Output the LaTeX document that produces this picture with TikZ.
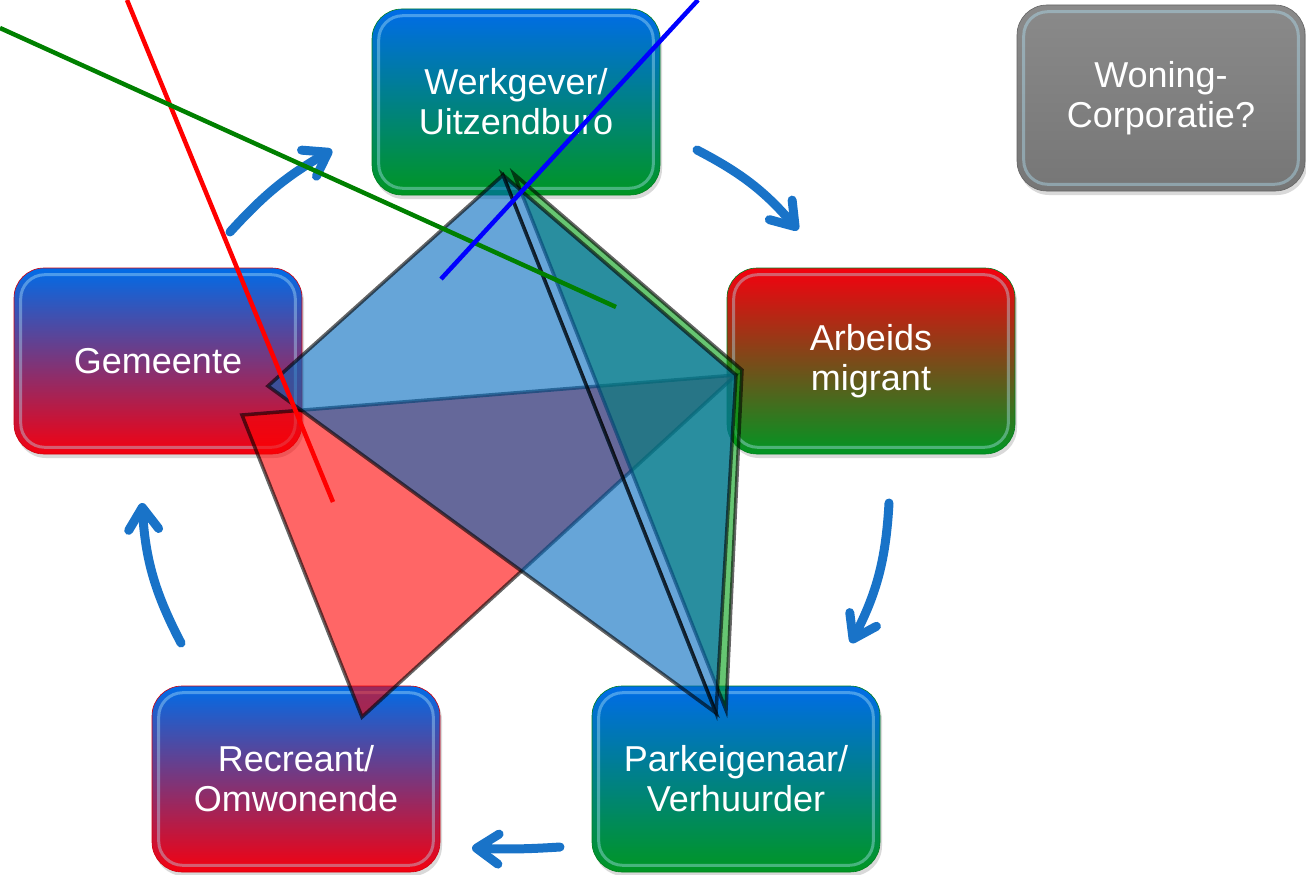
\documentclass[tikz,border=0pt]{standalone}
\usepackage{fontspec}
\setmainfont{Liberation Sans}
\usetikzlibrary{positioning, arrows.meta, shadows}

\definecolor{tileblue}{RGB}{0,108,232}
\definecolor{tilegreen}{RGB}{0,150,35}
\definecolor{tilered}{RGB}{245,0,15}
\definecolor{tilegreytop}{RGB}{138,138,138}
\definecolor{tilegrey}{RGB}{118,118,118}
\definecolor{cyclearrow}{RGB}{25,115,200}
\definecolor{faceblue}{RGB}{0,105,190}
\definecolor{facegreen}{RGB}{0,160,20}
\definecolor{facered}{RGB}{255,0,0}
\definecolor{rayred}{RGB}{255,0,0}
\definecolor{raygreen}{RGB}{0,128,0}
\definecolor{rayblue}{RGB}{0,0,255}

\tikzset{
  tile/.style 2 args={rounded corners=30pt, minimum width=288pt, minimum height=186pt,
    top color=#1, bottom color=#2, draw=#2!85!black, line width=0.6pt,
    text=white, align=center, font=\fontsize{36}{40}\selectfont,
    drop shadow={opacity=0.3, shadow xshift=2pt, shadow yshift=-4pt}},
  gloss/.style={draw=cyan!30!white, draw opacity=0.4, line width=3pt, rounded corners=24pt},
  cyclearr/.style={draw=cyclearrow, line width=9pt, line cap=round,
    -{Straight Barb[length=22pt, width=30pt, round]}},
  facet/.style={fill=#1, fill opacity=0.6, draw=black, draw opacity=0.6,
    line width=3.5pt, line join=miter},
  ray/.style={draw=#1, line width=4.5pt}
}

\begin{document}
\begin{tikzpicture}[x=1pt, y=-1pt]
  \useasboundingbox (0,0) rectangle (1306,875);

  % tiles
  \node[tile={tileblue}{tilegreen}] (werkgever) at (516,102) {Werkgever/\\Uitzendburo};
  \node[tile={tilegreytop}{tilegrey}] (woning) at (1161,98) {Woning-\\Corporatie?};
  \node[tile={tileblue}{tilered}] (gemeente) at (158,361) {Gemeente};
  \node[tile={tilered}{tilegreen}] (arbeids) at (871,361) {Arbeids\\migrant};
  \node[tile={tileblue}{tilered}] (recreant) at (296,779) {Recreant/\\Omwonende};
  \node[tile={tileblue}{tilegreen}] (parkeigenaar) at (736,779) {Parkeigenaar/\\Verhuurder};
  \foreach \t in {werkgever, woning, gemeente, arbeids, recreant, parkeigenaar}
    \draw[gloss] ([shift={(7pt,-7pt)}]\t.north west) rectangle ([shift={(-7pt,7pt)}]\t.south east);

  % cycle arrows
  \coordinate (s1) at (230,232); \coordinate (e1) at (332,150);
  \coordinate (s2) at (697,150); \coordinate (e2) at (798,230);
  \coordinate (s3) at (889,503); \coordinate (e3) at (851,643);
  \coordinate (s4) at (560,847); \coordinate (e4) at (472,848);
  \coordinate (s5) at (181,643); \coordinate (e5) at (142,503);
  \foreach \i/\b in {1/9, 2/11, 3/12, 4/3, 5/12}
    \draw[cyclearr] (s\i) to[bend left=\b] (e\i);

  % faces
  \coordinate (pA) at (503,175);
  \coordinate (pL) at (268,386);
  \coordinate (pR) at (736,375);
  \coordinate (pB) at (716,713);
  \coordinate (gA) at (514,174);
  \coordinate (gR) at (742,370);
  \coordinate (gB) at (726,710);
  \coordinate (rA) at (242,415);
  \coordinate (rB) at (362,717);
  \draw[facet=facered] (rA) -- (pR) -- (rB) -- cycle;
  \draw[facet=facegreen] (gA) -- (gR) -- (gB) -- cycle;
  \draw[facet=faceblue] (pA) -- (pR) -- (pB) -- cycle;
  \draw[facet=faceblue] (pA) -- (pL) -- (pB) -- cycle;

  % rays
  \draw[ray=rayred] (127,0) -- (333,502);
  \draw[ray=raygreen] (0,28) -- (616,307);
  \draw[ray=rayblue] (698,0) -- (441,279);
\end{tikzpicture}
\end{document}
